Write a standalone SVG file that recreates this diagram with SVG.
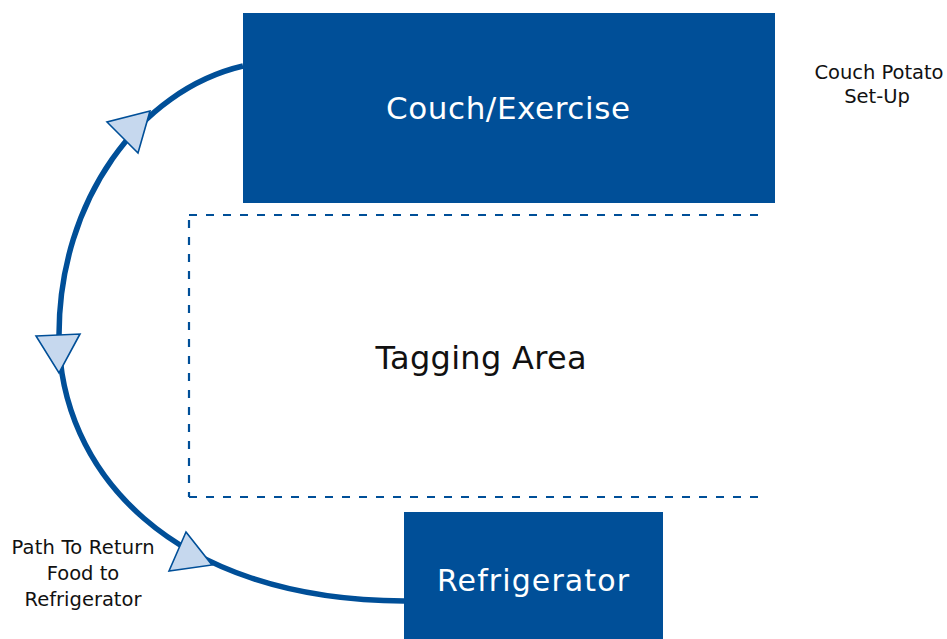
<svg xmlns="http://www.w3.org/2000/svg" width="947" height="639" viewBox="0 0 947 639">
<style>
.box{fill:#004f98}
.lbl{font-family:"DejaVu Sans","Liberation Sans",sans-serif;text-anchor:middle}
.w{fill:#ffffff}
.k{fill:#111111}
.flow{fill:none;stroke:#004f98;stroke-width:5.5}
.arr{fill:#c6d8ee;stroke:#004f98;stroke-width:1.6;stroke-linejoin:miter}
.dash{fill:none;stroke:#004f98;stroke-width:2.2;stroke-dasharray:8 9}
</style>
<rect width="947" height="639" fill="#ffffff"/>
<g id="tagging-area">
<path class="dash" d="M189,215 H763"/>
<path class="dash" d="M189,220 V497"/>
<path class="dash" d="M189,497 H763"/>
<text class="lbl k" x="481" y="369" font-size="32" textLength="211">Tagging Area</text>
</g>
<g id="connectors">
<path class="flow" d="M243,66 C140,90 59,200 59,335 C59,470 170,600 404,601"/>
<polygon class="arr" points="150,111 107,122 138,153"/>
<polygon class="arr" points="36,336 80,334 59,373"/>
<polygon class="arr" points="186,532 212,565 169,571"/>
</g>
<g id="couch">
<rect class="box" x="243" y="13" width="532" height="190"/>
<text class="lbl w" x="508" y="119" font-size="31" textLength="244">Couch/Exercise</text>
</g>
<g id="refrigerator">
<rect class="box" x="404" y="512" width="259" height="127"/>
<text class="lbl w" x="533" y="591" font-size="30" textLength="192">Refrigerator</text>
</g>
<g id="couch-potato-label">
<text class="lbl k" x="879" y="79" font-size="19.5" textLength="129">Couch Potato</text>
<text class="lbl k" x="877" y="103" font-size="19.5">Set-Up</text>
</g>
<g id="path-label">
<text class="lbl k" x="83" y="554" font-size="19.5" textLength="143">Path To Return</text>
<text class="lbl k" x="83" y="580" font-size="19.5">Food to</text>
<text class="lbl k" x="83" y="606" font-size="19.5">Refrigerator</text>
</g>
</svg>
